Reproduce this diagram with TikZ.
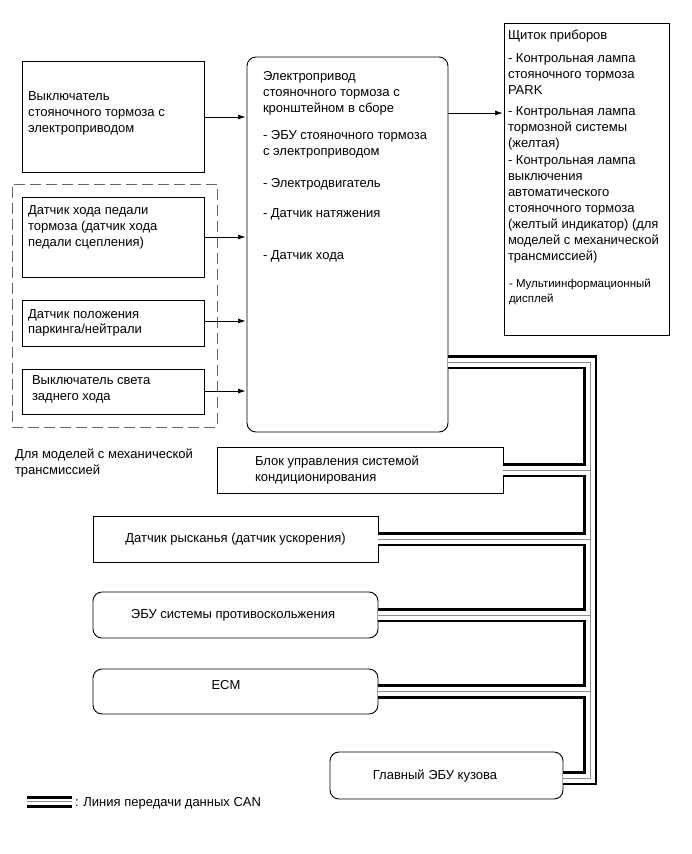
\documentclass[tikz,border=0pt]{standalone}
\usepackage{fontspec}
\setmainfont{Liberation Sans}
\usetikzlibrary{arrows.meta,fit}
\newcommand\candraw[1]{%
  \draw[#1] (main.east |- tA) -- (tA) -- (tB) -- (body.east |- tB);
  \draw[#1] (blk.east) -- (blk.east -| tA);
  \draw[#1] (yaw.east) -- (yaw.east -| tA);
  \draw[#1] (abs.east) -- (abs.east -| tA);
  \draw[#1] (ecm.east) -- (ecm.east -| tA);
}
\begin{document}
\begin{tikzpicture}[x=1pt,y=-1pt,
  every node/.style={inner sep=0pt, outer sep=0pt, font=\fontsize{13}{16}\selectfont},
  box/.style={draw, line width=0.9pt, fill=white},
  rbox/.style={box, rounded corners=9pt},
  dbox/.style={draw=black!60, line width=0.9pt, dash pattern=on 11pt off 5pt},
  txt/.style={anchor=north west, align=left, execute at begin node={\rule{0pt}{12pt}}},
  ctxt/.style={anchor=base},
  arr/.style={-{Latex[length=7.5pt,width=5pt]}, line width=0.7pt, shorten >=1.5pt},
  busblack/.style={line width=14.5pt, black},
  buswhite/.style={line width=9pt, white},
  busmid/.style={line width=1pt, black!45},
  lgblack/.style={line width=12pt, black},
  lgwhite/.style={line width=6pt, white},
]
\useasboundingbox (0,0) rectangle (691,854);

% boxes
\node[box, fit={(22,61) (204,172)}] (sw) {};
\node[rbox, fit={(247,57) (448,432)}] (main) {};
\node[dbox, fit={(12,184) (217,427)}] (grp) {};
\node[box, fit={(22,197) (204,277)}] (s1) {};
\node[box, fit={(22,300) (204,346)}] (s2) {};
\node[box, fit={(22,369) (204,414)}] (s3) {};
\node[box, fit={(504,23) (669,335)}] (ins) {};
\node[box, fit={(217,447) (503,493)}] (blk) {};
\node[box, fit={(93,516) (378,562)}] (yaw) {};
\node[rbox, fit={(93,592) (378,638)}] (abs) {};
\node[rbox, fit={(93,669) (378,714)}] (ecm) {};
\node[rbox, fit={(330,752) (563,799)}] (body) {};

% texts
\node[txt] (swt) at (28,91.5) {Выключатель\\стояночного тормоза с\\электроприводом};
\node[txt] (maint) at (263,71.5) {Электропривод\\стояночного тормоза с\\кронштейном в сборе\\[11pt]- ЭБУ стояночного тормоза\\с электроприводом\\[16pt]- Электродвигатель\\[14pt]- Датчик натяжения\\[26pt]- Датчик хода};
\node[txt] (inst) at (508,29.5) {Щиток приборов\\[7pt]- Контрольная лампа\\стояночного тормоза\\PARK\\[5pt]- Контрольная лампа\\тормозной системы\\(желтая)\\[1pt]- Контрольная лампа\\выключения\\автоматического\\стояночного тормоза\\(желтый индикатор) (для\\моделей с механической\\трансмиссией)};
\node[txt, font=\fontsize{11.5}{15}\selectfont, execute at begin node={\rule{0pt}{11pt}}] (inst2) at (509,278.5) {- Мультиинформационный\\дисплей};
\node[txt] (s1t) at (28,205.5) {Датчик хода педали\\тормоза (датчик хода\\педали сцепления)};
\node[txt, font=\fontsize{13}{15}\selectfont] (s2t) at (28,309.5) {Датчик положения\\паркинга/нейтрали};
\node[txt] (s3t) at (32,375.5) {Выключатель света\\заднего хода};
\node[txt] (note) at (15,448.5) {Для моделей с механической\\трансмиссией};
\node[txt] (blkt) at (255,455.5) {Блок управления системой\\кондиционирования};
\node[ctxt] (yawt) at (235.5,542.5) {Датчик рысканья (датчик ускорения)};
\node[ctxt] (abst) at (233,618.5) {ЭБУ системы противоскольжения};
\node[ctxt] (ecmt) at (226,689.5) {ECM};
\node[ctxt] (bodyt) at (435,779.5) {Главный ЭБУ кузова};

% arrows
\draw[arr] (sw.east |- 0,117) -- (main.west |- 0,117);
\draw[arr] (main.east |- 0,113) -- (ins.west |- 0,113);
\draw[arr] (s1.east |- 0,237) -- (main.west |- 0,237);
\draw[arr] (s2.east |- 0,321) -- (main.west |- 0,321);
\draw[arr] (s3.east |- 0,391) -- (main.west |- 0,391);

% CAN bus
\coordinate (tA) at (590,362);
\coordinate (tB) at (590,778);
\candraw{busblack}
\candraw{buswhite}
\candraw{busmid}

% legend
\coordinate (lgA) at (27,801.5);
\coordinate (lgB) at (72,801.5);
\draw[lgblack] (lgA) -- (lgB);
\draw[lgwhite] (lgA) -- (lgB);
\draw[busmid] (lgA) -- (lgB);
\node[anchor=base west] (lgt) at (75,806) {: Линия передачи данных CAN};
\end{tikzpicture}
\end{document}
